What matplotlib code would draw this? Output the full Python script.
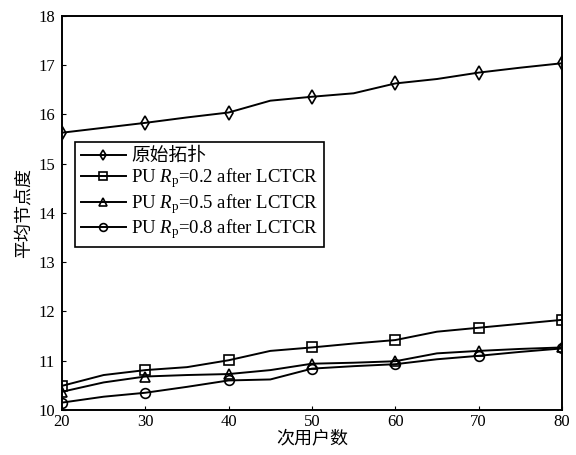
import matplotlib
matplotlib.use("Agg")
import matplotlib.pyplot as plt

plt.rcParams['font.family'] = ['Liberation Serif', 'Noto Sans CJK SC']
plt.rcParams['mathtext.fontset'] = 'custom'
plt.rcParams['mathtext.it'] = 'Liberation Serif:italic'
plt.rcParams['mathtext.rm'] = 'Liberation Serif'

x = [20, 25, 30, 35, 40, 45, 50, 55, 60, 65, 70, 75, 80]
original = [15.63, 15.73, 15.83, 15.94, 16.04, 16.28, 16.36, 16.43, 16.63, 16.72, 16.85, 16.95, 17.04]
rp02 = [10.49, 10.71, 10.81, 10.87, 11.01, 11.2, 11.27, 11.35, 11.42, 11.59, 11.67, 11.75, 11.83]
rp05 = [10.37, 10.56, 10.68, 10.71, 10.73, 10.81, 10.94, 10.96, 10.99, 11.15, 11.2, 11.24, 11.27]
rp08 = [10.15, 10.27, 10.35, 10.47, 10.6, 10.62, 10.84, 10.89, 10.93, 11.03, 11.1, 11.18, 11.25]

labels = ['原始拓扑',
          r'PU $R_{\mathrm{p}}$=0.2 after LCTCR',
          r'PU $R_{\mathrm{p}}$=0.5 after LCTCR',
          r'PU $R_{\mathrm{p}}$=0.8 after LCTCR']
xticks = [20, 30, 40, 50, 60, 70, 80]
yticks = [10, 11, 12, 13, 14, 15, 16, 17, 18]

fig = plt.figure(figsize=(5.76, 4.55), dpi=100)
ax = fig.add_axes([0.1076, 0.0989, 0.868, 0.866])

series = [original, rp02, rp05, rp08]
markers = ['d', 's', '^', 'o']
for ys, m, lab in zip(series, markers, labels):
    ax.plot(x, ys, color='black', lw=1.4, marker=m, markevery=2, ms=7,
            mfc='none', mec='black', mew=1.2, label=lab)

ax.set_xlim(20, 80)
ax.set_ylim(10, 18)
ax.set_xticks(xticks)
ax.set_yticks(yticks)
ax.tick_params(direction='in', length=3, labelsize=12, top=False, right=False)
ax.tick_params(axis='x', pad=3)
ax.tick_params(axis='y', pad=5)
for s in ax.spines.values():
    s.set_linewidth(1.4)

ax.set_xlabel('次用户数', fontsize=13, labelpad=0)
ax.set_ylabel('平均节点度', fontsize=13, labelpad=4)

leg = ax.legend(loc='upper left', bbox_to_anchor=(0.026, 0.68), borderaxespad=0,
                fontsize=13.5, fancybox=False, edgecolor='black', framealpha=1,
                handlelength=2.4, labelspacing=0.08, borderpad=0.3, handletextpad=0.3,
                markerscale=0.8)
leg.get_frame().set_linewidth(1.2)

fig.savefig('out.png', dpi=100)
